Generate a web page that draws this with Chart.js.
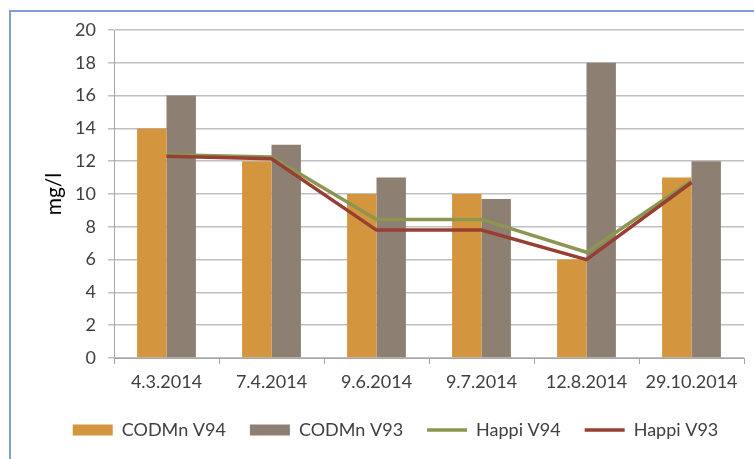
<!DOCTYPE html>
<html>
<head>
<meta charset="utf-8">
<script src="https://cdn.jsdelivr.net/npm/chart.js@4/dist/chart.umd.min.js"></script>
<style>
html,body{margin:0;padding:0;background:#fff;}
#wrap{position:relative;width:754px;height:459px;overflow:hidden;background:#fff;}
#frame{position:absolute;left:9px;top:10px;width:800px;height:500px;border-top:2px solid #7F9FD3;border-left:2px solid #7F9FD3;box-sizing:border-box;}
canvas{position:absolute;left:0;top:0;}
</style>
</head>
<body>
<div id="wrap">
<div id="frame"></div>
<canvas id="c" width="754" height="459"></canvas>
</div>
<script>
const categories = ['4.3.2014','7.4.2014','9.6.2014','9.7.2014','12.8.2014','29.10.2014'];
const codmnV94 = [14, 12, 10, 10, 6, 11];
const codmnV93 = [16, 13, 11, 9.7, 18, 12];
const happiV94 = [12.4, 12.25, 8.45, 8.45, 6.45, 10.8];
const happiV93 = [12.3, 12.15, 7.8, 7.8, 6.0, 10.7];
const yTicks = [0,2,4,6,8,10,12,14,16,18,20];

const FONT = 'Lato';
const TXT = '#404040';

new Chart(document.getElementById('c'), {
  data: {
    labels: categories,
    datasets: [
      {type:'bar', label:'CODMn V94', data:codmnV94, backgroundColor:'#D4953F', borderWidth:0, order:2, pointStyle:'rect'},
      {type:'bar', label:'CODMn V93', data:codmnV93, backgroundColor:'#8D7F71', borderWidth:0, order:3, pointStyle:'rect'},
      {type:'line', label:'Happi V94', data:happiV94, borderColor:'#8B9651', backgroundColor:'#8B9651', borderWidth:3.5, pointRadius:0, tension:0, order:1, pointStyle:'line'},
      {type:'line', label:'Happi V93', data:happiV93, borderColor:'#983F33', backgroundColor:'#983F33', borderWidth:3.5, pointRadius:0, tension:0, order:0, pointStyle:'line'}
    ]
  },
  options: {
    responsive:false,
    animation:false,
    devicePixelRatio:1,
    layout:{padding:{left:47,right:10,top:30,bottom:10}},
    datasets:{bar:{categoryPercentage:0.56, barPercentage:1}},
    plugins:{
      tooltip:{enabled:false},
      legend:{
        position:'bottom',
        labels:{
          usePointStyle:true, pointStyleWidth:40, boxHeight:11,
          padding:24, color:TXT, font:{family:FONT,size:18},
          sort:(a,b)=>a.datasetIndex-b.datasetIndex
        }
      }
    },
    scales:{
      x:{
        offset:true,
        grid:{display:true, drawOnChartArea:false, drawTicks:true, tickLength:6, color:'#A6A6A6', offset:true},
        border:{display:true, color:'#A6A6A6'},
        ticks:{color:TXT, font:{family:FONT,size:18}, padding:7, maxRotation:0, autoSkip:false},
        afterFit:(s)=>{s.height=39;}
      },
      y:{
        min:0, max:20,
        afterBuildTicks:(s)=>{s.ticks = yTicks.map(v=>({value:v}));},
        grid:{color:'#BFBFBF', tickLength:6, lineWidth:1.5},
        border:{display:true, color:'#A6A6A6'},
        ticks:{color:TXT, font:{family:FONT,size:18}, padding:12},
        title:{display:true, text:'mg/l', color:'#000', font:{family:FONT,size:21}, padding:{top:-5,bottom:0}},
        afterFit:(s)=>{s.width=67;}
      }
    }
  }
});
</script>
</body>
</html>
